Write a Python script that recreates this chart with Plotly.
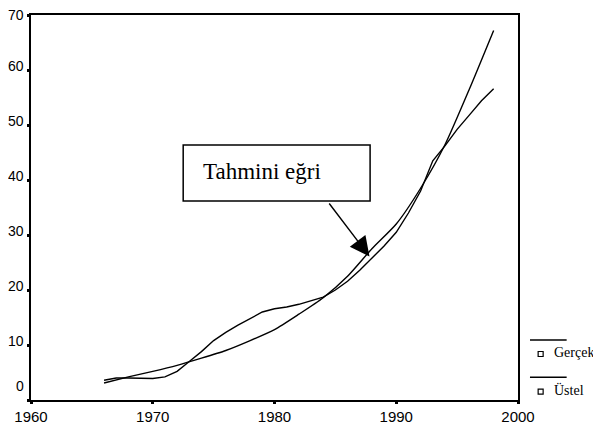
import plotly.graph_objects as go

# ---- data ----
years_actual = list(range(1966, 1999))
gercek = [3.6, 4.0, 4.0, 3.9, 3.9, 4.2, 5.2, 7.0, 8.8, 10.8, 12.3, 13.6, 14.8,
          16.0, 16.6, 16.9, 17.4, 18.0, 18.7, 20.0, 21.6, 23.6, 25.8, 28.0,
          30.5, 34.0, 38.0, 43.5, 46.2, 49.2, 51.8, 54.4, 56.6]

years_exp = [1966, 1968, 1970, 1972, 1974, 1976, 1978, 1980, 1982, 1984,
             1986, 1988, 1990, 1992, 1994, 1996, 1998]
ustel = [3.1, 4.2, 5.2, 6.3, 7.6, 9.0, 10.8, 12.8, 15.6, 18.6,
         22.5, 27.5, 32.0, 38.5, 46.4, 56.5, 67.2]

x_ticks = [1960, 1970, 1980, 1990, 2000]
y_ticks = [0, 10, 20, 30, 40, 50, 60, 70]

series_names = ["Gerçek", "Üstel"]
box_label = "Tahmini eğri"
arrow_tip = (1987.8, 26.1)
arrow_tail = (1984.4, 36.0)

fig = go.Figure()
fig.add_trace(go.Scatter(x=years_actual, y=gercek, mode="lines", name=series_names[0],
                         line=dict(color="black", width=1.4), showlegend=False))
fig.add_trace(go.Scatter(x=years_exp, y=ustel, mode="lines", name=series_names[1],
                         line=dict(color="black", width=1.4, shape="spline", smoothing=0.6),
                         showlegend=False))

axis_font = dict(family="Arial, Liberation Sans, sans-serif", size=15, color="black")
ylab_font = dict(family="Arial, Liberation Sans, sans-serif", size=14, color="black")

# the page body adds an 8px offset, so the figure is sized to end at 601x427
fig.update_layout(
    width=593, height=419,
    margin=dict(l=23, r=83, t=7, b=27),
    paper_bgcolor="white", plot_bgcolor="white",
    xaxis=dict(range=[1960, 2000], tickvals=x_ticks, ticktext=[str(v) for v in x_ticks],
               showgrid=False, zeroline=False, showline=True, linecolor="black",
               linewidth=1.6, mirror=True, ticks="outside", ticklen=2, tickwidth=3,
               tickcolor="black", tickfont=axis_font, automargin=False,
               ticklabelstandoff=0),
    yaxis=dict(range=[0, 70], tickvals=y_ticks, showticklabels=False,
               showgrid=False, zeroline=False, showline=True, linecolor="black",
               linewidth=1.6, mirror=True, ticks="outside", ticklen=2, tickwidth=3,
               tickcolor="black", automargin=False),
)

# y tick labels (drawn as text on the y scale, sitting slightly above each tick)
for v in y_ticks:
    shift = 14 if v == y_ticks[0] else (0 if v == y_ticks[-1] else 4)
    fig.add_annotation(xref="paper", yref="y", x=0, y=v, xanchor="right",
                       yanchor="middle", xshift=-5, yshift=shift,
                       showarrow=False, text=str(v), font=ylab_font)

# annotation box
fig.add_shape(type="rect", xref="paper", yref="paper",
              x0=0.3125, x1=0.6963, y0=0.5169, y1=0.6623,
              line=dict(color="black", width=1.5), fillcolor="white")
fig.add_annotation(xref="paper", yref="paper", x=0.3495, y=0.5948,
                   xanchor="left", yanchor="middle", showarrow=False,
                   text=box_label,
                   font=dict(family="Liberation Serif, Times New Roman, serif", size=23,
                             color="black"))
fig.add_annotation(x=arrow_tip[0], y=arrow_tip[1], ax=arrow_tail[0], ay=arrow_tail[1],
                   axref="x", ayref="y", xref="x", yref="y", text="",
                   showarrow=True, arrowhead=2, arrowsize=2.8, arrowwidth=1.4,
                   arrowcolor="black")

# legend (drawn manually to match the original layout)
legend_font = dict(family="Liberation Serif, Times New Roman, serif", size=14, color="black")
legend_rows = [(0.1558, 0.1195, 0.1239), (0.059, 0.0216, 0.026)]
for name, (ly, sy, ty) in zip(series_names, legend_rows):
    fig.add_shape(type="line", xref="paper", yref="paper",
                  x0=1.0246, x1=1.0999, y0=ly, y1=ly,
                  line=dict(color="black", width=1.5))
    fig.add_shape(type="rect", xref="paper", yref="paper",
                  xsizemode="pixel", ysizemode="pixel",
                  xanchor=1.0465, yanchor=sy, x0=-2.5, x1=2.5, y0=-2.5, y1=2.5,
                  line=dict(color="black", width=1.2), fillcolor="white")
    fig.add_annotation(xref="paper", yref="paper", x=1.0794, y=ty,
                       xanchor="left", yanchor="middle", showarrow=False,
                       text=name, font=legend_font, xshift=-5)

fig.write_html("out.html")
